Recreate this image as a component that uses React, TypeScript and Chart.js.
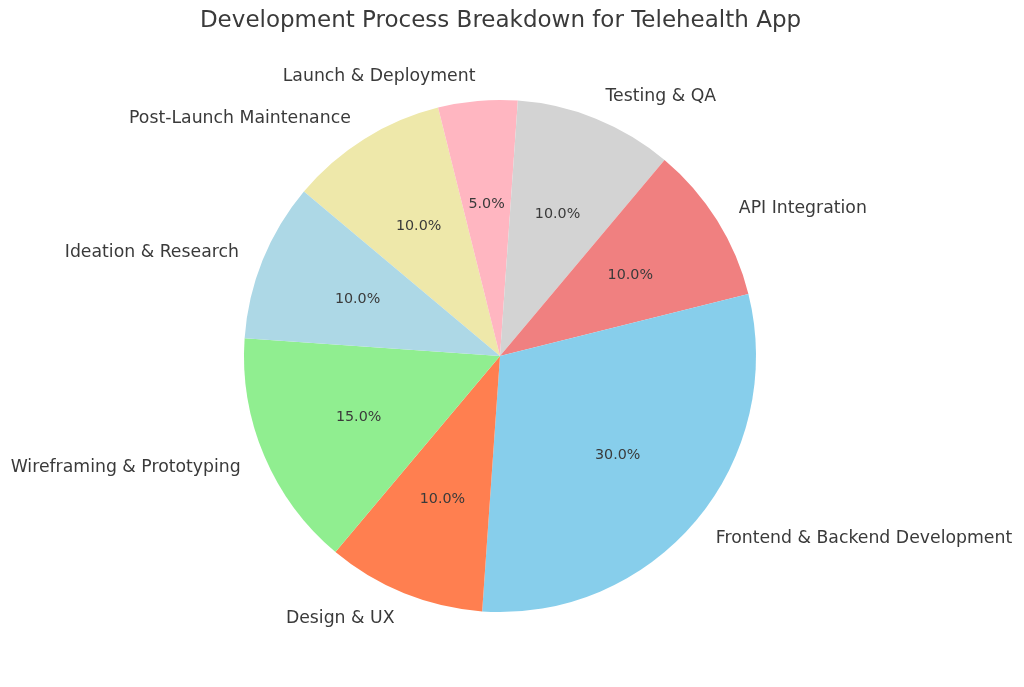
import React, { useEffect, useRef } from "react";
import { Chart, registerables } from "chart.js";

Chart.register(...registerables);

// Clockwise order (Chart.js draws clockwise)
const categories = [
  "Post-Launch Maintenance",
  "Launch & Deployment",
  "Testing & QA",
  "API Integration",
  "Frontend & Backend Development",
  "Design & UX",
  "Wireframing & Prototyping",
  "Ideation & Research",
];
const shares = [10, 5, 10, 10, 30, 10, 15, 10];
const colors = [
  "#EEE8AA",
  "#FFB6C1",
  "#D3D3D3",
  "#F08080",
  "#87CEEB",
  "#FF7F50",
  "#90EE90",
  "#ADD8E6",
];
const titleText = "Development Process Breakdown for Telehealth App";

const FONT = "'DejaVu Sans', sans-serif";
const TEXT = "#3a3a3a";

const labelPlugin = {
  id: "pieLabels",
  afterDraw(chart: any) {
    const ctx = chart.ctx;
    const meta = chart.getDatasetMeta(0);
    const total = shares.reduce((a, b) => a + b, 0);
    ctx.save();
    // title
    ctx.fillStyle = TEXT;
    ctx.font = `23px ${FONT}`;
    ctx.textAlign = "center";
    ctx.textBaseline = "middle";
    ctx.fillText(titleText, 500.5, 21);
    meta.data.forEach((arc: any, i: number) => {
      const { x, y, startAngle, endAngle, outerRadius } = arc.getProps(
        ["x", "y", "startAngle", "endAngle", "outerRadius"],
        true
      );
      const mid = (startAngle + endAngle) / 2;
      const cx = Math.cos(mid);
      const cy = Math.sin(mid);
      // outer label
      ctx.font = `17.3px ${FONT}`;
      ctx.textBaseline = "middle";
      ctx.textAlign = cx >= 0 ? "left" : "right";
      ctx.fillText(categories[i], x + cx * outerRadius * 1.1, y + cy * outerRadius * 1.1 + 1.5);
      // percentage
      ctx.font = `14.3px ${FONT}`;
      ctx.textAlign = "center";
      const pct = ((shares[i] / total) * 100).toFixed(1) + "%";
      ctx.fillText(pct, x + cx * outerRadius * 0.6, y + cy * outerRadius * 0.6 + 1);
    });
    ctx.restore();
  },
};

export default function App() {
  const ref = useRef<HTMLCanvasElement>(null);
  useEffect(() => {
    document.body.style.margin = "0";
    const chart = new Chart(ref.current!, {
      type: "pie",
      data: {
        labels: categories,
        datasets: [
          {
            data: shares,
            backgroundColor: colors,
            borderWidth: 0,
          },
        ],
      },
      options: {
        animation: false,
        responsive: false,
        rotation: -50,
        layout: { padding: { left: 244, right: 268, top: 100, bottom: 75 } },
        plugins: {
          legend: { display: false },
          tooltip: { enabled: false },
          title: { display: false },
        },
      },
      plugins: [labelPlugin],
    });
    return () => chart.destroy();
  }, []);
  return (
    <div style={{ width: 1024, height: 687, background: "#fff" }}>
      <canvas ref={ref} width={1024} height={687} style={{ display: "block" }} />
    </div>
  );
}
